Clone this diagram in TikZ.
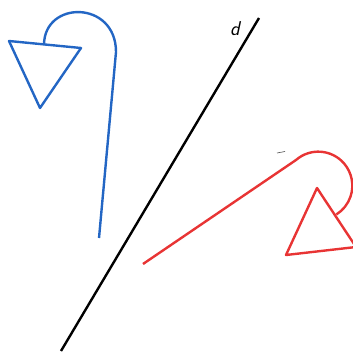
\documentclass[tikz,border=0pt]{standalone}
\usepackage{tikz}
\usetikzlibrary{positioning}
\definecolor{figblue}{RGB}{35,102,196}
\definecolor{figred}{RGB}{232,52,52}
\begin{document}
\begin{tikzpicture}[x=1pt,y=1pt,line join=round,
blueline/.style={draw=figblue,line width=2.4pt},
redline/.style={draw=figred,line width=2.4pt},
axisline/.style={draw=black,line width=2.4pt}]
\useasboundingbox (0,0) rectangle (353,351);
\clip (0,0) rectangle (353,351);
% axis d
\coordinate (dlow) at (61,0);
\coordinate (dtop) at (259,333);
\draw[axisline] (dlow)--(dtop);
\node[font=\fontsize{20}{20}\selectfont\sffamily\itshape] (dlab) at (235,322) {d};
% blue figure
\draw[blueline] (9,310)--(81,303)--(40,243)--cycle;
\draw[blueline] (44,306) .. controls (44,351) and (116,351) .. (116,299)--(99,113);
% red figure (image)
\draw[redline] (317,163)--(286,96)--(356,104)--cycle;
\draw[redline] (143,87)--(296,191) arc[start angle=131,end angle=-58,radius=34];
\draw[black!70,line width=0.6pt] (277,198)--(285,199.5);
\end{tikzpicture}
\end{document}
